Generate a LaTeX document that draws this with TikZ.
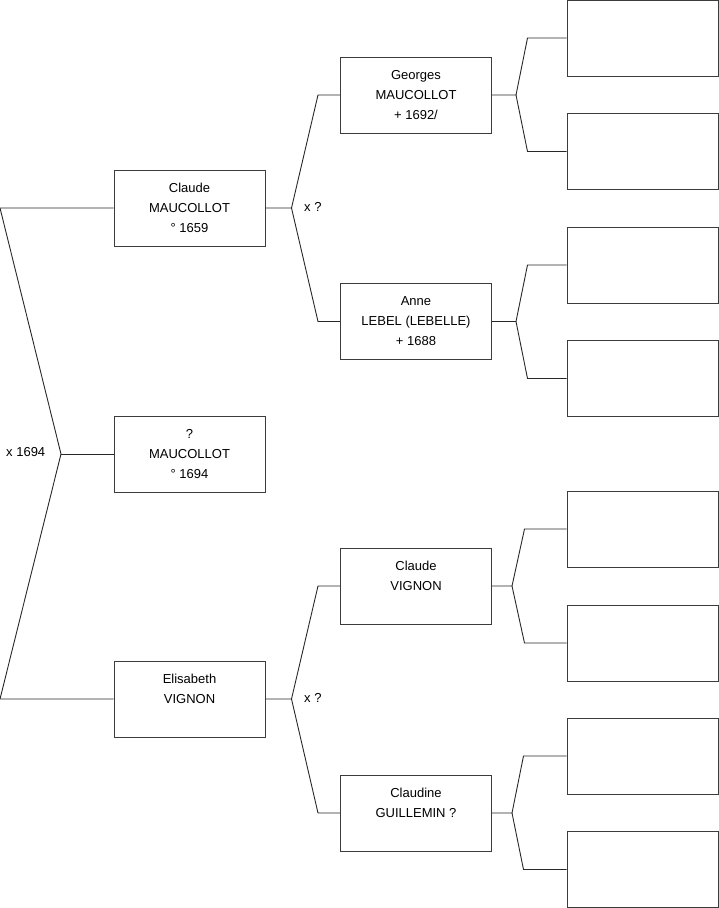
\documentclass[tikz,border=0pt]{standalone}
\usepackage{fontspec}
\setmainfont{Liberation Sans}
\usetikzlibrary{positioning, calc}
\definecolor{boxgray}{RGB}{60,60,60}
\definecolor{linegray}{RGB}{40,40,40}

\begin{document}
\begin{tikzpicture}[
    x=1pt, y=-1pt,
    every node/.style={font=\fontsize{13}{20}\selectfont},
    person/.style={rectangle, draw=boxgray, line width=1pt, minimum width=151pt, minimum height=76pt, align=center, inner sep=0pt},
    link/.style={draw=linegray, line width=0.9pt},
    union/.style={anchor=west, inner sep=0pt}
]
\useasboundingbox (0,0) rectangle (719,908);

% first generation
\node[person] (claude) at (189.5,208) {Claude\\MAUCOLLOT\\° 1659};
\node[person] (child) at (189.5,454) {?\\MAUCOLLOT\\° 1694};
\node[person] (elisabeth) at (189.5,699) {Elisabeth\\VIGNON\\~};

% second generation
\node[person] (georges) at (416,95) {Georges\\MAUCOLLOT\\+ 1692/};
\node[person] (anne) at (416,321.5) {Anne\\LEBEL (LEBELLE)\\+ 1688};
\node[person] (claudev) at (416,586) {Claude\\VIGNON\\~};
\node[person] (claudine) at (416,813) {Claudine\\GUILLEMIN ?\\~};

% third generation (empty)
\foreach \n/\y in {g1/38, g2/151.5, g3/265, g4/378.5, g5/529, g6/643, g7/756, g8/869.5}
  \node[person] (\n) at (642.5,\y) {};

% marriage of the parents
\coordinate (top) at (0,208);
\coordinate (mid) at (61,454);
\coordinate (bot) at (0,699);
\draw[link] (claude.west) -- (top) -- (mid) -- (bot) -- (elisabeth.west);
\draw[link] (mid) -- (child.west);
\node[union] (mar0) at (6,452) {x 1694};

% forks to the parents
\foreach \p/\a/\b/\dx/\ex in {claude/georges/anne/26/22, elisabeth/claudev/claudine/26/22,
    georges/g1/g2/24/39, anne/g3/g4/24/39, claudev/g5/g6/20/42, claudine/g7/g8/20/43}
{
  \draw[link] (\p.east) -- ++(\dx,0) coordinate (fk) -- ($(\a.west)+(-\ex,0)$) -- (\a.west);
  \draw[link] (fk) -- ($(\b.west)+(-\ex,0)$) -- (\b.west);
}

\node[union] (mar1) at (304,207) {x ?};
\node[union] (mar2) at (304,698) {x ?};

\end{tikzpicture}
\end{document}
